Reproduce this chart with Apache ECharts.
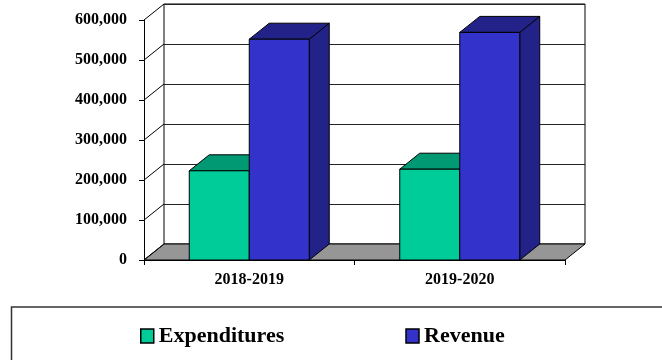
<!DOCTYPE html>
<html>
<head>
<meta charset="utf-8">
<script src="https://cdn.jsdelivr.net/npm/echarts@6/dist/echarts.min.js"></script>
<style>
  html, body { margin: 0; padding: 0; background: #fff; }
  #chart { width: 662px; height: 360px; }
</style>
</head>
<body>
<div id="chart"></div>
<script>
// Budget figures by fiscal year
const categories = ['2018-2019', '2019-2020'];
const expenditures = [223000, 227000];
const revenue = [552000, 569000];
const yTicks = [0, 100000, 200000, 300000, 400000, 500000, 600000];
const seriesNames = ['Expenditures', 'Revenue'];

// 3D box depth offset (pixels) and bar width as share of a category band
const DX = 20, DY = -16;
const BAR_RATIO = 0.285;
const FONT = '"Liberation Serif", "Times New Roman", serif';

const COLORS = {
  Expenditures: { front: '#00CC99', top: '#009973', side: '#009973' },
  Revenue: { front: '#3333CC', top: '#222288', side: '#222288' }
};

const chart = echarts.init(document.getElementById('chart'), null, { renderer: 'canvas' });

// front plane and back wall grids
const frontGrid = { left: 144, right: 97, top: 20, bottom: 100 };
const backGrid = {
  left: frontGrid.left + DX,
  right: frontGrid.right - DX,
  top: frontGrid.top + DY,
  bottom: frontGrid.bottom - DY
};

const yMin = yTicks[0];
const yMax = yTicks[yTicks.length - 1];
const yStep = yTicks[1] - yTicks[0];

function barRenderer(name, slot) {
  const c = COLORS[name];
  return function (params, api) {
    const xi = api.value(0);
    const v = api.value(1);
    const base = api.coord([xi, 0]);
    const top = api.coord([xi, v]);
    const bw = api.size([1, 0])[0];
    const w = bw * BAR_RATIO;
    const x0 = base[0] + slot * w;
    const x1 = x0 + w;
    const yb = base[1];
    const yt = top[1];
    const edge = { stroke: '#000', lineWidth: 1, lineJoin: 'round' };
    return {
      type: 'group',
      children: [
        {
          type: 'polygon',
          shape: { points: [[x1, yb], [x1, yt], [x1 + DX, yt + DY], [x1 + DX, yb + DY]] },
          style: Object.assign({ fill: c.side }, edge)
        },
        {
          type: 'polygon',
          shape: { points: [[x0, yt], [x1, yt], [x1 + DX, yt + DY], [x0 + DX, yt + DY]] },
          style: Object.assign({ fill: c.top }, edge)
        },
        {
          type: 'rect',
          shape: { x: x0, y: yt, width: w, height: yb - yt },
          style: Object.assign({ fill: c.front }, edge)
        }
      ]
    };
  };
}

// floor plane and side-wall gridlines, derived from the front axes
function frameRenderer(params, api) {
  const origin = api.coord([0, yMin]);
  const bw = api.size([1, 0])[0];
  const n = categories.length;
  const xl = origin[0] - bw / 2;
  const xr = origin[0] + bw * (n - 0.5);
  const y0 = origin[1];
  const children = [{
    type: 'polygon',
    shape: { points: [[xl, y0], [xr, y0], [xr + DX, y0 + DY], [xl + DX, y0 + DY]] },
    style: { fill: '#969696', stroke: '#000', lineWidth: 1 }
  }];
  yTicks.forEach(function (t) {
    const y = api.coord([0, t])[1];
    children.push({
      type: 'line',
      shape: { x1: xl, y1: y, x2: xl + DX, y2: y + DY },
      style: { stroke: '#000', lineWidth: 1 }
    });
  });
  return { type: 'group', children: children };
}

const option = {
  animation: false,
  backgroundColor: '#fff',
  color: [COLORS.Expenditures.front, COLORS.Revenue.front],
  grid: [
    Object.assign({ show: false }, frontGrid),
    Object.assign({ show: true, backgroundColor: '#fff', borderColor: '#000', borderWidth: 1 }, backGrid)
  ],
  xAxis: [
    {
      type: 'category',
      gridIndex: 0,
      data: categories,
      z: 10,
      axisLine: { show: true, lineStyle: { color: '#000', width: 1 } },
      axisTick: { show: true, length: 5, lineStyle: { color: '#000' } },
      axisLabel: { margin: 12, color: '#000', fontFamily: FONT, fontWeight: 'bold', fontSize: 16 }
    },
    {
      type: 'category',
      gridIndex: 1,
      data: categories,
      show: false
    }
  ],
  yAxis: [
    {
      type: 'value',
      gridIndex: 0,
      min: yMin,
      max: yMax,
      interval: yStep,
      z: 10,
      axisLine: { show: true, lineStyle: { color: '#000', width: 1 } },
      axisTick: { show: true, length: 5, lineStyle: { color: '#000' } },
      splitLine: { show: false },
      axisLabel: {
        margin: 17,
        color: '#000',
        fontFamily: FONT,
        fontWeight: 'bold',
        fontSize: 16,
        formatter: function (v) { return v.toLocaleString('en-US'); }
      }
    },
    {
      type: 'value',
      gridIndex: 1,
      min: yMin,
      max: yMax,
      interval: yStep,
      axisLine: { show: false },
      axisTick: { show: false },
      axisLabel: { show: false },
      splitLine: { show: true, lineStyle: { color: '#222', width: 1.2 } }
    }
  ],
  legend: {
    data: seriesNames,
    left: 140,
    top: 325,
    padding: 0,
    itemGap: 121,
    itemWidth: 13,
    itemHeight: 14,
    icon: 'rect',
    itemStyle: { borderColor: '#000', borderWidth: 1.5 },
    textStyle: { color: '#000', fontFamily: FONT, fontWeight: 'bold', fontSize: 22, lineHeight: 22 }
  },
  graphic: [{
    type: 'rect',
    silent: true,
    z: -1,
    shape: { x: 11.5, y: 307, width: 700, height: 100 },
    style: { fill: 'none', stroke: '#333', lineWidth: 1.5 }
  }],
  series: [
    {
      type: 'custom',
      name: 'frame',
      xAxisIndex: 0,
      yAxisIndex: 0,
      z: 1,
      silent: true,
      data: [[categories[0], yMin]],
      renderItem: frameRenderer
    },
    {
      type: 'custom',
      name: seriesNames[0],
      xAxisIndex: 0,
      yAxisIndex: 0,
      z: 2,
      itemStyle: { color: COLORS.Expenditures.front },
      data: categories.map(function (c, i) { return [c, expenditures[i]]; }),
      renderItem: barRenderer('Expenditures', -1)
    },
    {
      type: 'custom',
      name: seriesNames[1],
      xAxisIndex: 0,
      yAxisIndex: 0,
      z: 3,
      itemStyle: { color: COLORS.Revenue.front },
      data: categories.map(function (c, i) { return [c, revenue[i]]; }),
      renderItem: barRenderer('Revenue', 0)
    }
  ]
};

chart.setOption(option);
</script>
</body>
</html>
